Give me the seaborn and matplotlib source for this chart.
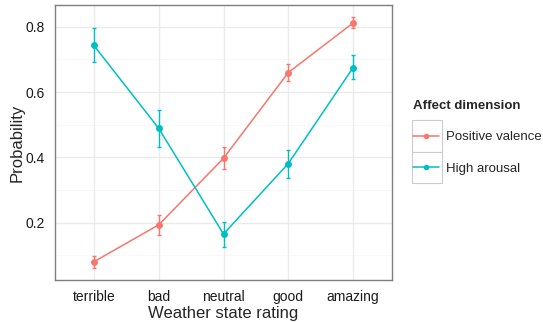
import numpy as np
import pandas as pd
import matplotlib.pyplot as plt
from matplotlib.patches import Rectangle
import seaborn as sns

sns.set_style('white')
plt.rcParams['font.family'] = ['Liberation Sans', 'DejaVu Sans']

ratings = ['terrible', 'bad', 'neutral', 'good', 'amazing']
dims = ['Positive valence', 'High arousal']

pos_mean = [0.080, 0.193, 0.397, 0.660, 0.812]
pos_lo = [0.062, 0.161, 0.364, 0.633, 0.795]
pos_hi = [0.098, 0.224, 0.431, 0.687, 0.831]

aro_mean = [0.743, 0.489, 0.165, 0.381, 0.675]
aro_lo = [0.692, 0.432, 0.126, 0.338, 0.639]
aro_hi = [0.795, 0.546, 0.203, 0.421, 0.713]

colors = {'Positive valence': '#F8766D', 'High arousal': '#00BFC4'}

df = pd.DataFrame({
    'rating': ratings * 2,
    'x': list(range(len(ratings))) * 2,
    'prob': pos_mean + aro_mean,
    'lo': pos_lo + aro_lo,
    'hi': pos_hi + aro_hi,
    'dim': [dims[0]] * 5 + [dims[1]] * 5,
})

W, H = 543, 322
fig = plt.figure(figsize=(5.43, 3.22), dpi=100)
ax = fig.add_axes([55 / W, 1 - 280 / H, 337 / W, 275 / H])

# ggplot-like grid
for y in [0.1, 0.3, 0.5, 0.7]:
    ax.axhline(y, color='#F5F5F5', lw=0.5, zorder=0)
for y in [0.2, 0.4, 0.6, 0.8]:
    ax.axhline(y, color='#EBEBEB', lw=1.0, zorder=0)
for x in range(len(ratings)):
    ax.axvline(x, color='#EBEBEB', lw=1.0, zorder=0)

sns.lineplot(data=df, x='x', y='prob', hue='dim', palette=colors,
             marker='o', markersize=5, markeredgewidth=0, lw=1.1,
             ax=ax, legend=False, zorder=3)

for d in dims:
    sub = df[df.dim == d]
    ax.errorbar(sub.x, sub.prob,
                yerr=[sub.prob - sub.lo, sub.hi - sub.prob],
                fmt='none', ecolor=colors[d], elinewidth=1.0,
                capsize=1.5, capthick=1.0, zorder=2)

ax.set_xlim(-0.6, 4.6)
ax.set_ylim(0.024, 0.867)
ax.set_xticks(range(len(ratings)))
ax.set_xticklabels(ratings)
ax.set_yticks([0.2, 0.4, 0.6, 0.8])
ax.set_yticklabels(['0.2', '0.4', '0.6', '0.8'])
ax.tick_params(axis='both', labelsize=10, colors='#333333', labelcolor='#1a1a1a',
               length=3.6, width=0.8, direction='out', pad=3.5)
ax.set_xlabel('Weather state rating', fontsize=12, labelpad=1.5)
ax.set_ylabel('Probability', fontsize=12, labelpad=1)
for s in ax.spines.values():
    s.set_color('#7F7F7F')
    s.set_linewidth(1.0)

# legend
handles = [plt.Line2D([], [], color=colors[d], marker='o', markersize=4,
                      markeredgewidth=0, lw=1.1) for d in dims]
leg = fig.legend(handles, dims, title='Affect dimension', loc='upper left',
                 bbox_to_anchor=(413 / W, 1 - 100 / H), frameon=False,
                 fontsize=9.5, title_fontsize=9.5, handlelength=2.0,
                 handletextpad=0.5, labelspacing=1.45, borderaxespad=0,
                 borderpad=0)
leg.get_title().set_fontweight('bold')
leg._legend_box.align = 'left'
for i in range(2):
    fig.add_artist(Rectangle((411.7 / W, 1 - (120 + 31.5 * (i + 1)) / H),
                             30.6 / W, 31.5 / H, transform=fig.transFigure,
                             facecolor='white', edgecolor='#CCCCCC', lw=0.8,
                             zorder=-1))

fig.savefig('out.png', dpi=100)
